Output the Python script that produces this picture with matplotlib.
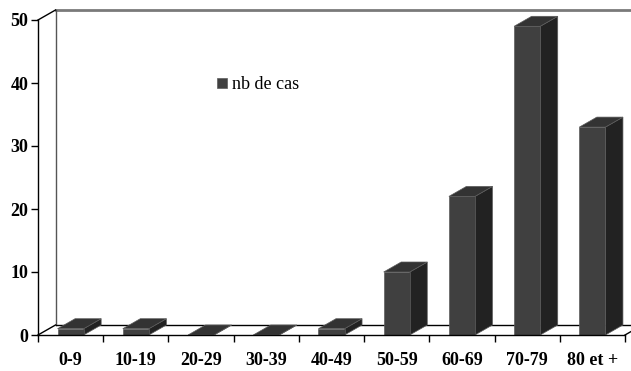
import matplotlib
matplotlib.use('Agg')
import matplotlib.pyplot as plt
from matplotlib.patches import Polygon

# cases per age group
categories = ['0-9', '10-19', '20-29', '30-39', '40-49', '50-59', '60-69', '70-79', '80 et +']
cases = [1, 1, 0, 0, 1, 10, 22, 49, 33]

plt.rcParams['font.family'] = ['Liberation Serif', 'DejaVu Serif']

FRONT = '#404040'
SIDE = '#222222'
TOP = '#333333'
EDGE = '#5c5c5c'

fig = plt.figure(figsize=(6.31, 3.71), dpi=100)
ax = fig.add_axes([38 / 631, 36 / 371, 587 / 631, 315 / 371])
ax.set_xlim(-0.5, len(categories) - 0.5)
ax.set_ylim(0, 50)

# depth of the pseudo-3D box, in data units
dx = 17.5 / 65.2
dy = 10 / 6.3
x0, x1 = -0.5, len(categories) - 0.5

# back wall and floor
ax.plot([x0 + dx, x1 + dx], [50 + dy, 50 + dy], color='#7a7a7a', lw=2, clip_on=False, zorder=1)
ax.plot([x0 + dx, x0 + dx], [dy, 50 + dy], color='#555555', lw=1, clip_on=False, zorder=1)
ax.plot([x0 + dx, x1 + dx], [dy, dy], color='black', lw=1, clip_on=False, zorder=1)
ax.plot([x0, x0 + dx], [50, 50 + dy], color='black', lw=1, clip_on=False, zorder=1)
ax.plot([x0, x0 + dx], [0, dy], color='black', lw=1, clip_on=False, zorder=1)
ax.plot([x1, x1 + dx], [0, dy], color='black', lw=1, clip_on=False, zorder=1)

w = 0.4
xs = list(range(len(categories)))
ax.bar(xs, cases, width=w, color=FRONT, edgecolor=EDGE, linewidth=0.5,
       label='nb de cas', zorder=3)
for i, v in zip(xs, cases):
    l, r = i - w / 2, i + w / 2
    side = [(r, 0), (r + dx, dy), (r + dx, v + dy), (r, v)]
    top = [(l, v), (l + dx, v + dy), (r + dx, v + dy), (r, v)]
    ax.add_patch(Polygon(side, closed=True, facecolor=SIDE, edgecolor=EDGE,
                         lw=0.5, clip_on=False, zorder=2))
    ax.add_patch(Polygon(top, closed=True, facecolor=TOP, edgecolor=EDGE,
                         lw=0.5, clip_on=False, zorder=2))

for s in ['top', 'right']:
    ax.spines[s].set_visible(False)
for s in ['left', 'bottom']:
    ax.spines[s].set_linewidth(1)
    ax.spines[s].set_zorder(5)

ax.set_yticks(range(0, 51, 10))
ax.set_xticks(xs)
ax.set_xticklabels(categories)
ax.set_xticks([x - 0.5 for x in xs] + [x1], minor=True)
ax.tick_params(axis='x', which='major', length=0, pad=12)
ax.tick_params(axis='x', which='minor', length=5, width=1, direction='out')
ax.tick_params(axis='y', length=5, width=1, direction='out', pad=2)
for lab in ax.get_xticklabels() + ax.get_yticklabels():
    lab.set_fontweight('bold')
    lab.set_fontsize(13)

ax.legend(loc='center left', bbox_to_anchor=(0.305, 0.794), frameon=False,
          fontsize=13, handlelength=0.55, handleheight=0.55,
          handletextpad=0.3, borderpad=0, borderaxespad=0)

fig.savefig('out.png', dpi=100)
